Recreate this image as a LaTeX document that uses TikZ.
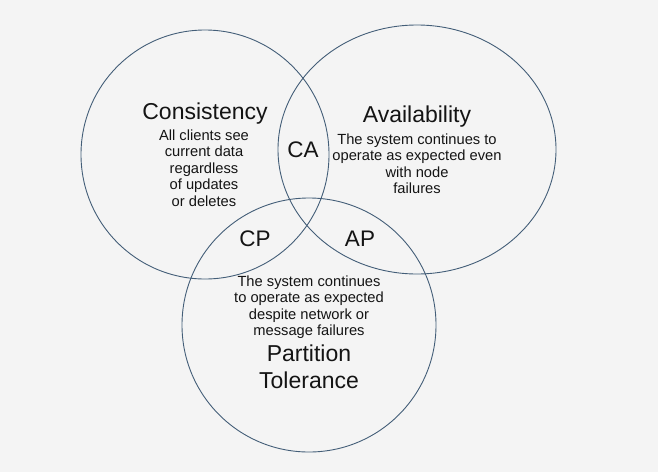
\documentclass[tikz,border=0pt]{standalone}
\usepackage{fontspec}
\setmainfont{Liberation Sans}
\usetikzlibrary{shapes.geometric}
\definecolor{bgc}{RGB}{244,244,244}
\definecolor{ringc}{RGB}{68,94,120}
\definecolor{txtc}{RGB}{20,20,20}
\begin{document}
\begin{tikzpicture}[x=1pt,y=-1pt,
  ring/.style={draw=ringc, line width=0.9pt, ellipse, inner sep=0pt, fill=none},
  title/.style={text=txtc, font=\fontsize{23}{27}\selectfont, align=center, inner sep=0pt},
  desc/.style={text=txtc, font=\fontsize{14.7}{16.5}\selectfont, align=center, inner sep=0pt},
  pair/.style={text=txtc, font=\fontsize{22.5}{26}\selectfont, inner sep=0pt}]
\fill[bgc] (0,0) rectangle (658,472);
\useasboundingbox (0,0) rectangle (658,472);
\node[ring, minimum width=248pt, minimum height=249pt] (cons) at (205,154.5) {};
\node[ring, minimum width=278pt, minimum height=249pt] (avail) at (417,149.5) {};
\node[ring, minimum width=254pt, minimum height=254pt] (part) at (309,325) {};
\node[title] (ctitle) at (205,114) {Consistency};
\node[desc] (cdesc) at (204,168) {All clients see\\current data\\regardless\\of updates\\or deletes};
\node[title] (atitle) at (417,117) {Availability};
\node[desc] (adesc) at (417,163.5) {The system continues to\\operate as expected even\\with node\\failures};
\node[desc] (pdesc) at (309,307) {The system continues\\to operate as expected\\despite network or\\message failures};
\node[title] (ptitle) at (309,367) {Partition\\Tolerance};
\node[pair] (ca) at (303,150) {CA};
\node[pair] (cp) at (255,239) {CP};
\node[pair] (ap) at (360,239) {AP};
\end{tikzpicture}
\end{document}
